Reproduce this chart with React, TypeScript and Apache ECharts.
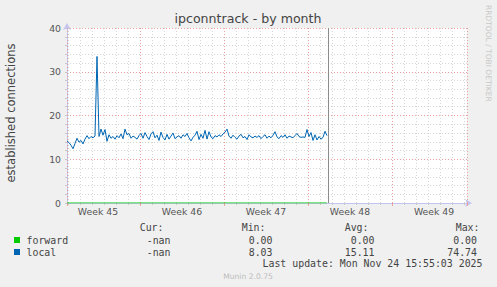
import React, { useEffect, useRef } from 'react';
import * as echarts from 'echarts';

// Time axis in days since Sunday Nov 2 2025 00:00 (start of Week 45)
const startDay = 0.9167; // left edge of the plot
const endDay = 34.25; // right edge of the plot
const stepDay = 1 / 6; // 4-hour samples
const nowDay = 22.663; // Mon Nov 24 15:55
const weekNumbers = [45, 46, 47, 48, 49];
const yTicks = [0, 10, 20, 30, 40];

const localValues = [
  14.2, 13.8, 13.2, 12.4, 13.6, 14.8, 13.9, 14.3, 13.5, 14.6,
  15.4, 14.7, 15.2, 14.9, 15.3, 33.5, 15.2, 16.9, 15.5, 16.8,
  14.1, 15.6, 14.8, 15.2, 14.6, 15.4, 14.9, 15.8, 14.7, 16.9,
  15.6, 15.9, 14.8, 15.3, 15.0, 14.6, 15.4, 15.9, 14.8, 16.1,
  15.2, 14.5, 15.8, 16.3, 14.9, 15.5, 14.3, 16.2, 15.0, 14.4,
  15.7, 14.6, 15.3, 16.0, 14.7, 15.1, 15.4, 14.8, 15.6, 15.2,
  15.9, 14.9, 14.2, 15.0, 15.5, 16.4, 14.5, 15.7, 14.8, 16.6,
  14.6, 16.3, 15.1, 14.7, 15.4, 15.1, 15.6, 15.2, 15.8, 16.2,
  16.9, 15.3, 14.8, 15.5, 15.0, 14.6, 15.3, 15.7, 14.9, 15.2,
  14.5, 15.6, 15.1, 14.9, 15.3, 15.0, 15.4, 14.7, 15.2, 15.6,
  14.8, 15.3, 14.9, 15.5, 16.3, 15.1, 14.7, 15.4, 15.0, 15.6,
  14.8, 15.3, 15.1, 14.9, 15.4, 15.9, 15.2, 15.0, 15.1, 15.0,
  16.8, 15.2, 16.1, 14.3, 15.6, 14.4, 15.2, 14.6, 15.0, 16.4,
  15.4,
];
// forward is 0 for every sample
const forwardValues = new Array(localValues.length).fill(0);

const seriesNames = ['forward', 'local'];
const seriesColors = ['#00CC00', '#0066B3'];
const curValues = ['-nan', '-nan'];
const minValues = ['0.00', '8.03'];
const avgValues = ['0.00', '15.11'];
const maxValues = ['0.00', '74.74'];
const statHeaders = ['Cur:', 'Min:', 'Avg:', 'Max:'];

const MONO = '"DejaVu Sans Mono", monospace';
const SANS = '"DejaVu Sans", sans-serif';
const AXIS_COLOR = '#c4c4f0';
const MINOR = '#d6d6d6';
const MAJOR = '#eba0a0';

function txt(text: string, x: number, y: number, size: number, family: string, fill: string, align: string, extra: any = {}) {
  return {
    type: 'text',
    x,
    y,
    silent: true,
    ...extra,
    style: {
      text,
      font: `${size}px ${family}`,
      fill,
      textAlign: align,
      align,
      textVerticalAlign: 'middle',
      verticalAlign: 'middle',
    },
  };
}

export default function App() {
  const ref = useRef<HTMLDivElement>(null);
  useEffect(() => {
    document.body.style.margin = '0';
    if (!ref.current) return;
    const chart = echarts.init(ref.current, undefined, { renderer: 'svg' });

    const localData = localValues.map((v, i) => [startDay + i * stepDay, v]);
    const forwardData = forwardValues.map((v, i) => [startDay + i * stepDay, v]);

    const headerRight = [163.5, 265.5, 368.5, 479.5];
    const valueRight = [170.5, 272.5, 374.5, 477];
    const rowY = [240, 252];

    const graphics: any[] = [
      txt('ipconntrack - by month', 248, 18, 12.6, SANS, '#444', 'center'),
      txt('established connections', 11, 113, 11.5, SANS, '#444', 'center', { rotation: Math.PI / 2 }),
      txt('RRDTOOL / TOBI OETIKER', 488, 5, 7.5, SANS, '#c8c8c8', 'left', { rotation: -Math.PI / 2 }),
      txt('Munin 2.0.75', 248, 276, 7.6, SANS, '#bdbdbd', 'center'),
      txt('Last update: Mon Nov 24 15:55:03 2025', 482.5, 263.5, 9.9, MONO, '#444', 'right'),
    ];
    statHeaders.forEach((h, i) => graphics.push(txt(h, headerRight[i], 227.5, 9.9, MONO, '#444', 'right')));
    seriesNames.forEach((name, r) => {
      graphics.push({
        type: 'rect',
        silent: true,
        shape: { x: 14, y: rowY[r] - 3, width: 6, height: 6 },
        style: { fill: seriesColors[r] },
      });
      graphics.push(txt(name, 26.5, rowY[r], 9.9, MONO, '#444', 'left'));
      const vals = [curValues[r], minValues[r], avgValues[r], maxValues[r]];
      vals.forEach((v, c) => graphics.push(txt(v, valueRight[c], rowY[r], 9.9, MONO, '#444', 'right')));
    });

    const option: any = {
      animation: false,
      backgroundColor: '#F0F0F0',
      grid: {
        left: 67,
        right: 30,
        top: 28,
        bottom: 84,
        show: true,
        backgroundColor: '#ffffff',
        borderWidth: 0,
      },
      xAxis: [
        {
          // day grid
          type: 'value',
          position: 'bottom',
          min: startDay,
          max: endDay,
          minInterval: 1,
          maxInterval: 1,
          splitNumber: 33,
          axisLine: {
            show: true,
            onZero: false,
            symbol: ['none', 'arrow'],
            symbolSize: [6, 7],
            symbolOffset: [0, 5],
            lineStyle: { color: AXIS_COLOR, width: 1 },
          },
          axisTick: { show: true, length: 2, lineStyle: { color: '#c8c8c8' } },
          axisLabel: { show: false },
          splitLine: { show: true, lineStyle: { color: MINOR, type: [1, 2], width: 1 } },
          z: 1,
        },
        {
          // week grid (week 0 = Week 45 start)
          type: 'value',
          position: 'bottom',
          min: startDay / 7,
          max: endDay / 7,
          minInterval: 1,
          maxInterval: 1,
          splitNumber: 5,
          axisLine: { show: false, onZero: false },
          axisTick: { show: true, length: 3, lineStyle: { color: MAJOR } },
          axisLabel: { show: false },
          splitLine: { show: true, lineStyle: { color: MAJOR, type: [1, 2], width: 1 } },
          z: 2,
        },
        {
          // week labels, centred on each week
          type: 'value',
          position: 'bottom',
          min: startDay / 7 - 0.5,
          max: endDay / 7 - 0.5,
          minInterval: 1,
          maxInterval: 1,
          splitNumber: 5,
          axisLine: { show: false, onZero: false },
          axisTick: { show: false },
          splitLine: { show: false },
          axisLabel: {
            show: true,
            margin: 4,
            color: '#555',
            fontFamily: SANS,
            fontSize: 9.3,
            formatter: (v: number) => {
              const k = Math.round(v);
              if (Math.abs(v - k) > 1e-6 || k < 0 || k >= weekNumbers.length) return '';
              return 'Week ' + weekNumbers[k];
            },
          },
        },
      ],
      yAxis: {
        type: 'value',
        min: yTicks[0],
        max: yTicks[yTicks.length - 1],
        interval: yTicks[1] - yTicks[0],
        axisLine: {
          show: true,
          onZero: false,
          symbol: ['none', 'arrow'],
          symbolSize: [6, 7],
          symbolOffset: [0, 5],
          lineStyle: { color: AXIS_COLOR, width: 1 },
        },
        axisTick: { show: true, length: 2, lineStyle: { color: '#c8c8c8' } },
        minorTick: { show: true, splitNumber: 5, length: 2, lineStyle: { color: '#c8c8c8' } },
        axisLabel: { margin: 6, color: '#555', fontFamily: SANS, fontSize: 9.3 },
        splitLine: { show: true, lineStyle: { color: MAJOR, type: [1, 2], width: 1 } },
        minorSplitLine: { show: true, lineStyle: { color: MINOR, type: [1, 2], width: 1 } },
      },
      series: [
        {
          name: 'local',
          type: 'line',
          xAxisIndex: 0,
          data: localData,
          showSymbol: false,
          symbol: 'none',
          lineStyle: { color: seriesColors[1], width: 1 },
          itemStyle: { color: seriesColors[1] },
          z: 3,
          markLine: {
            silent: true,
            symbol: ['none', 'none'],
            label: { show: false },
            lineStyle: { color: '#8c8c8c', type: 'solid', width: 1 },
            data: [{ xAxis: nowDay }],
          },
        },
        {
          name: 'forward',
          type: 'line',
          xAxisIndex: 0,
          data: forwardData,
          showSymbol: false,
          symbol: 'none',
          lineStyle: { color: seriesColors[0], width: 1 },
          itemStyle: { color: seriesColors[0] },
          z: 4,
        },
      ],
      graphic: graphics,
    };
    chart.setOption(option);
    return () => chart.dispose();
  }, []);
  return <div ref={ref} style={{ width: 497, height: 287 }} />;
}
